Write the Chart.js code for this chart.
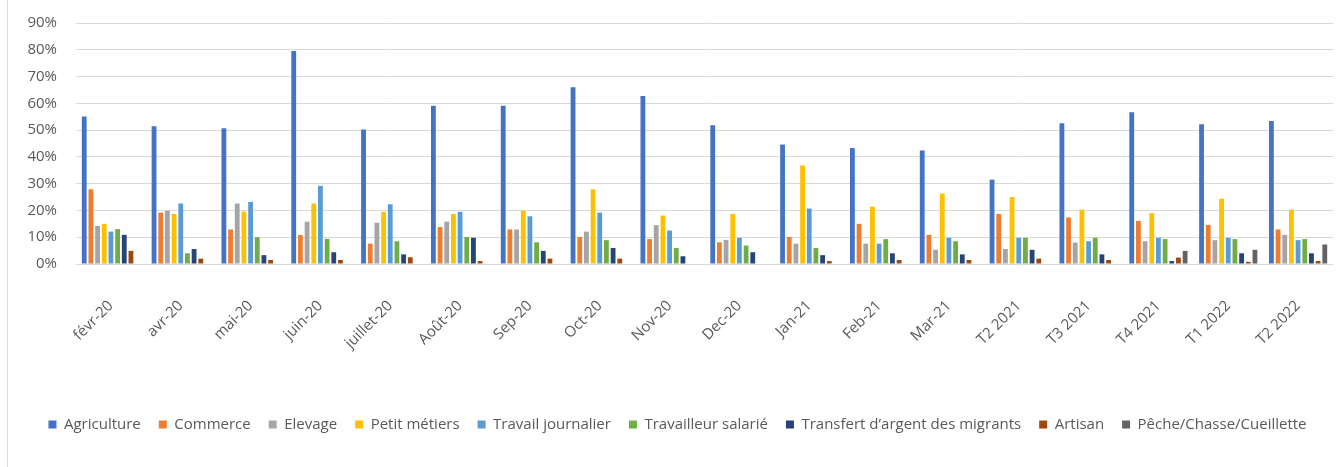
<!DOCTYPE html>
<html lang="fr">
<head>
<meta charset="utf-8">
<script src="https://cdn.jsdelivr.net/npm/chart.js@4.4.1/dist/chart.umd.min.js"></script>
<style>
  html, body { margin: 0; padding: 0; background: #fff; }
  #cadre { position: relative; width: 1343px; height: 467px; }
  #bord { position: absolute; left: 7px; top: 0; width: 1px; height: 467px; background: #d9d9d9; }
</style>
</head>
<body>
<div id="cadre">
  <div id="bord"></div>
  <canvas id="barres"></canvas>
</div>
<script>
const periodes = ["févr-20", "avr-20", "mai-20", "juin-20", "juillet-20", "Août-20", "Sep-20", "Oct-20", "Nov-20", "Dec-20", "Jan-21", "Feb-21", "Mar-21", "T2 2021", "T3 2021", "T4 2021", "T1 2022", "T2 2022"];

const agriculture = [55.1, 51.4, 50.7, 79.5, 50.2, 59.1, 59.1, 66.0, 62.7, 51.8, 44.6, 43.3, 42.4, 31.5, 52.6, 56.7, 52.2, 53.4];
const commerce = [27.9, 19.2, 12.9, 10.8, 7.6, 13.8, 12.9, 10.1, 9.3, 8.1, 10.1, 15.0, 10.9, 18.7, 17.4, 16.1, 14.6, 12.9];
const elevage = [14.2, 19.9, 22.6, 15.8, 15.4, 15.8, 12.9, 12.1, 14.5, 9.0, 7.6, 7.6, 5.3, 5.6, 8.0, 8.5, 8.9, 10.9];
const petitMetiers = [15.0, 18.7, 19.6, 22.6, 19.5, 18.7, 19.9, 27.9, 18.1, 18.7, 36.8, 21.4, 26.3, 25.0, 20.3, 19.0, 24.4, 20.3];
const travailJournalier = [12.1, 22.6, 23.2, 29.2, 22.3, 19.5, 17.8, 19.2, 12.5, 9.8, 20.7, 7.6, 9.8, 9.8, 8.5, 9.8, 9.8, 8.9];
const travailleurSalarie = [13.0, 4.0, 10.0, 9.4, 8.5, 10.1, 8.1, 8.9, 6.0, 6.9, 6.0, 9.3, 8.5, 9.8, 9.8, 9.3, 9.3, 9.3];
const transfertMigrants = [10.9, 5.6, 3.3, 4.4, 3.6, 9.8, 4.9, 6.0, 2.9, 4.4, 3.3, 4.0, 3.6, 5.3, 3.6, 1.1, 4.0, 4.0];
const artisan = [4.9, 2.0, 1.5, 1.5, 2.5, 1.1, 2.0, 2.0, 0, 0, 1.1, 1.5, 1.5, 2.0, 1.5, 2.4, 0.8, 1.1];
const pecheChasse = [0, 0, 0, 0, 0, 0, 0, 0, 0, 0, 0, 0, 0, 0, 0, 4.9, 5.3, 7.3];

const graduations = [0, 10, 20, 30, 40, 50, 60, 70, 80, 90];

const series = [
  { label: "Agriculture", data: agriculture, cor: "#4472c4" },
  { label: "Commerce", data: commerce, cor: "#ed7d31" },
  { label: "Elevage", data: elevage, cor: "#a5a5a5" },
  { label: "Petit métiers", data: petitMetiers, cor: "#ffc000" },
  { label: "Travail journalier", data: travailJournalier, cor: "#5b9bd5" },
  { label: "Travailleur salarié", data: travailleurSalarie, cor: "#70ad47" },
  { label: "Transfert d’argent des migrants", data: transfertMigrants, cor: "#264478" },
  { label: "Artisan", data: artisan, cor: "#9e480e" },
  { label: "Pêche/Chasse/Cueillette", data: pecheChasse, cor: "#636363" },
];

const texte = "#595959";
const police = "'Open Sans', sans-serif";

new Chart(document.getElementById("barres"), {
  type: "bar",
  data: {
    labels: periodes,
    datasets: series.map((s) => ({
      label: s.label,
      data: s.data,
      backgroundColor: s.cor,
      borderWidth: 0,
      categoryPercentage: 0.86,
      barPercentage: 0.72,
    })),
  },
  options: {
    responsive: true,
    maintainAspectRatio: false,
    animation: false,
    layout: {
      padding: { top: 23, right: 10, bottom: 25, left: 22 },
    },
    plugins: {
      tooltip: { enabled: false },
      legend: {
        position: "bottom",
        labels: {
          boxWidth: 8,
          boxHeight: 8,
          padding: 18,
          color: texte,
          font: { family: police, size: 15 },
        },
      },
    },
    scales: {
      y: {
        min: 0,
        max: 90,
        afterBuildTicks: (axe) => {
          axe.ticks = graduations.map((v) => ({ value: v }));
        },
        afterFit: (axe) => {
          axe.width = 54;
        },
        border: { display: false },
        // petits traits invisibles pour decaler les etiquettes sans ajouter de marge en haut
        grid: { color: "#d9d9d9", lineWidth: 1, tickLength: 15, tickColor: "rgba(0,0,0,0)" },
        ticks: {
          padding: 4,
          color: texte,
          font: { family: police, size: 15 },
          callback: (v) => v + "%",
        },
      },
      x: {
        afterFit: (axe) => {
          axe.height = 135;
        },
        border: { display: false },
        grid: { display: false },
        ticks: {
          minRotation: 45,
          maxRotation: 45,
          padding: 25,
          color: texte,
          font: { family: police, size: 15 },
        },
      },
    },
  },
});
</script>
</body>
</html>
